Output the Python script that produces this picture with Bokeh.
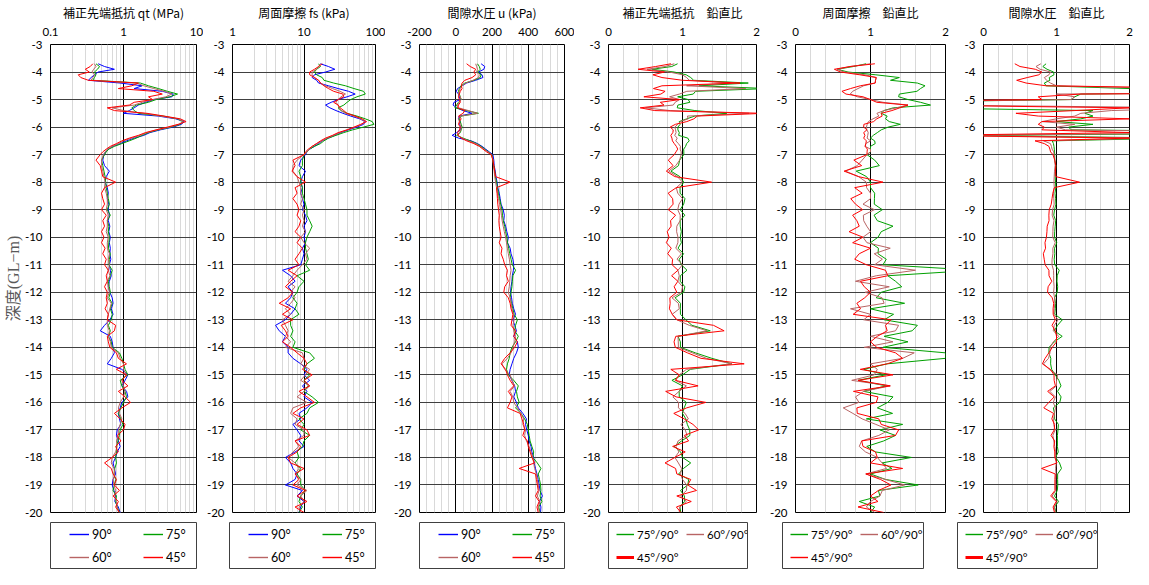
import numpy as np
from bokeh.plotting import figure
from bokeh.models import (Range1d, FixedTicker, CustomJSTickFormatter, Legend,
                          LegendItem, Spacer)
from bokeh.layouts import row, column
from bokeh.embed import file_html
from bokeh.resources import INLINE

# ---------------- data ----------------
depth_top = [-3.7, -3.8, -3.9, -4.0, -4.1, -4.2, -4.3, -4.4, -4.5, -4.6,
             -4.7, -4.8, -4.9, -5.0, -5.1, -5.2, -5.3, -5.4, -5.5, -5.6,
             -5.7, -5.8, -5.9, -6.0, -6.1, -6.2, -6.3, -6.4, -6.5, -6.6,
             -6.7, -6.8, -6.9, -7.0]
depth_bottom = [-7.2, -7.4, -7.6, -7.8, -8.0, -8.2, -8.4, -8.6, -8.8, -9.0,
                -9.2, -9.4, -9.6, -9.8, -10.0, -10.2, -10.4, -10.6, -10.8, -11.0,
                -11.2, -11.4, -11.6, -11.8, -12.0, -12.2, -12.4, -12.6, -12.8, -13.0,
                -13.2, -13.4, -13.6, -13.8, -14.0, -14.2, -14.4, -14.6, -14.8, -15.0,
                -15.2, -15.4, -15.6, -15.8, -16.0, -16.2, -16.4, -16.6, -16.8, -17.0,
                -17.2, -17.4, -17.6, -17.8, -18.0, -18.2, -18.4, -18.6, -18.8, -19.0,
                -19.2, -19.4, -19.6, -19.8, -20.0]
depth = depth_top + depth_bottom

# corrected cone resistance qt (MPa)
qt_90 = [0.45, 0.55, 0.75, 0.45, 0.40, 0.36, 0.33, 0.9, 1.8, 1.4,
         3.4, 4.8, 4.6, 2.6, 2.0, 1.6, 1.4, 1.2, 1.0, 3.0,
         5.2, 6.8, 6.2, 4.8, 3.2, 2.3, 1.9, 1.4, 1.1, 0.9,
         0.72, 0.62, 0.57, 0.54,
         0.52, 0.55, 0.64, 0.58, 0.56, 0.60, 0.62, 0.60, 0.63, 0.62,
         0.64, 0.62, 0.65, 0.63, 0.66, 0.64, 0.66, 0.65, 0.67, 0.64,
         0.66, 0.68, 0.64, 0.62, 0.65, 0.70, 0.72, 0.68, 0.72, 0.65,
         0.55, 0.48, 0.66, 0.70, 0.72, 0.75, 0.68, 0.60, 0.95, 1.15,
         1.05, 0.95, 1.10, 1.15, 0.95, 0.90, 0.85, 0.88, 0.92, 0.82,
         0.80, 0.85, 0.90, 0.82, 0.78, 0.72, 0.75, 0.78, 0.72, 0.70,
         0.74, 0.78, 0.76, 0.85, 0.90]
qt_75 = [0.42, 0.47, 0.44, 0.40, 0.42, 0.40, 0.38, 1.7, 2.2, 3.0,
         4.0, 5.5, 4.3, 2.8, 2.2, 1.5, 1.3, 1.4, 1.6, 3.5,
         5.5, 6.5, 6.0, 4.5, 3.0, 2.2, 1.8, 1.5, 1.2, 0.95,
         0.75, 0.63, 0.58, 0.55,
         0.50, 0.52, 0.54, 0.56, 0.57, 0.58, 0.60, 0.62, 0.64, 0.60,
         0.66, 0.60, 0.63, 0.62, 0.64, 0.63, 0.62, 0.66, 0.64, 0.63,
         0.70, 0.66, 0.62, 0.64, 0.66, 0.63, 0.70, 0.66, 0.70, 0.68,
         0.62, 0.66, 0.62, 0.68, 0.70, 0.88, 0.95, 1.00, 1.05, 1.15,
         0.90, 0.95, 1.05, 1.10, 1.00, 0.92, 0.85, 0.92, 0.98, 0.90,
         0.88, 0.84, 0.80, 0.80, 0.78, 0.80, 0.76, 0.74, 0.78, 0.75,
         0.72, 0.80, 0.78, 0.82, 0.88]
qt_60 = [0.40, 0.42, 0.39, 0.37, 0.40, 0.38, 0.36, 1.5, 1.9, 2.6,
         3.6, 4.6, 3.8, 2.5, 1.8, 1.4, 0.7, 1.0, 1.9, 3.2,
         5.6, 6.6, 5.8, 4.3, 2.9, 2.1, 1.7, 1.3, 1.0, 0.85,
         0.7, 0.6, 0.56, 0.53,
         0.50, 0.50, 0.52, 0.54, 0.56, 0.55, 0.58, 0.60, 0.60, 0.58,
         0.62, 0.60, 0.60, 0.58, 0.62, 0.60, 0.60, 0.64, 0.62, 0.64,
         0.62, 0.65, 0.60, 0.62, 0.64, 0.60, 0.68, 0.65, 0.62, 0.60,
         0.60, 0.64, 0.62, 0.66, 0.68, 0.85, 0.90, 1.00, 1.00, 1.10,
         0.95, 1.00, 1.05, 1.00, 0.90, 0.85, 0.88, 0.95, 0.90, 0.85,
         0.85, 0.80, 0.82, 0.78, 0.70, 0.68, 0.74, 0.76, 0.72, 0.74,
         0.78, 0.76, 0.80, 0.82, 0.86]
qt_45 = [0.38, 0.35, 0.30, 0.34, 0.24, 0.26, 0.33, 1.6, 1.3, 0.85,
         2.6, 3.4, 2.2, 2.5, 1.4, 1.2, 0.6, 0.75, 2.1, 3.6,
         6.0, 7.2, 5.6, 4.0, 2.8, 2.0, 1.6, 1.2, 0.95, 0.8,
         0.66, 0.58, 0.52, 0.48,
         0.42, 0.48, 0.50, 0.52, 0.78, 0.55, 0.50, 0.52, 0.55, 0.50,
         0.58, 0.52, 0.55, 0.50, 0.54, 0.50, 0.56, 0.52, 0.58, 0.55,
         0.62, 0.58, 0.60, 0.55, 0.60, 0.58, 0.60, 0.56, 0.62, 0.60,
         0.78, 0.75, 0.60, 0.62, 0.65, 0.80, 0.85, 1.10, 0.80, 1.10,
         0.95, 1.15, 0.85, 1.05, 1.25, 0.95, 0.75, 0.90, 1.05, 1.00,
         0.82, 0.92, 0.78, 0.85, 0.70, 0.55, 0.68, 0.72, 0.80, 0.75,
         0.88, 0.72, 0.85, 0.78, 0.88]

# sleeve friction fs (kPa)
fs_90 = [17, 22, 27, 20, 14, 13, 15, 16, 22, 30,
         42, 52, 40, 30, 24, 20, 23, 28, 35, 45,
         60, 72, 68, 55, 42, 33, 27, 22, 18, 16,
         14, 12, 11, 10.5,
         9, 8.5, 10.5, 9.5, 9, 9.5, 9, 9.5, 10, 9.5,
         10.5, 11, 10, 10.5, 10, 10.5, 9.5, 10, 9.5, 9,
         5, 6.5, 7.5, 6, 7, 6.5, 5.5, 7.5, 6.5, 5.5,
         4, 4.5, 5.5, 5, 6, 6, 7, 9, 11, 10,
         12, 9.5, 11, 10, 13, 11, 8.5, 9, 7, 8,
         9, 8.5, 10, 7.5, 5.5, 6.5, 7, 8, 7.5, 5.5,
         9.5, 8, 10, 9, 8.5]
fs_75 = [16, 17, 15, 14, 15, 18, 19, 26, 38, 50,
         68, 72, 55, 45, 40, 36, 30, 33, 40, 55,
         72, 90, 95, 68, 48, 36, 28, 22, 19, 17,
         14, 12, 11, 10,
         9.5, 9.5, 8.5, 9, 9, 9.5, 9.5, 10, 10.5, 11,
         11, 12, 13, 12, 11, 10.5, 10.5, 11, 11.5, 10.5,
         12, 8, 10, 8.5, 8, 7, 8, 7.5, 8.5, 6.5,
         6.5, 7, 6.5, 7.5, 7, 12, 14, 11, 10, 12,
         10, 11.5, 10, 13, 16, 12, 11, 8.5, 10, 9,
         12, 10, 9.5, 8, 8.5, 7.5, 9, 8, 9, 9,
         10.5, 9, 8.5, 9.5, 8.5]
fs_60 = [17, 16, 15, 13, 13, 14, 16, 17, 20, 25,
         32, 38, 33, 30, 28, 30, 31, 33, 38, 50,
         62, 70, 65, 52, 40, 32, 26, 21, 18, 15,
         13, 12, 11, 10,
         8, 7, 7, 8, 8.5, 9, 9, 9.5, 9, 10,
         9.5, 10, 9.5, 10.5, 9, 10, 12, 10.5, 11, 9.5,
         8, 7, 6, 7.5, 6.5, 7.5, 6.5, 5.5, 6.5, 5,
         5.5, 6, 5.5, 6.5, 5.5, 9.5, 10, 9, 12, 10.5,
         9, 12, 10, 8, 11, 7, 6.5, 8, 7.5, 10,
         10, 7.5, 8.5, 7, 6, 7.5, 8.5, 7.5, 9, 8,
         11, 9, 10, 8.5, 9]
fs_45 = [18, 16, 14, 12, 12, 14, 16, 17, 19, 22,
         26, 35, 36, 30, 26, 30, 32, 36, 40, 52,
         65, 75, 62, 50, 40, 30, 25, 20, 17, 15,
         13, 11.5, 10.5, 10,
         7, 7.5, 6.8, 8, 10.5, 7.5, 8, 7, 8, 8.5,
         8, 9, 8.5, 7.5, 9, 8, 9.5, 8.5, 7.5, 8.5,
         6, 8, 6.5, 5.5, 7, 6, 4.5, 6.5, 5, 7,
         4.8, 5.5, 6, 5, 6.5, 8, 10, 11, 9.5, 13,
         10, 12, 8.5, 11, 14, 9, 7, 10, 8, 11,
         12, 7.5, 9, 8, 6, 6.5, 10, 7.5, 8.5, 7,
         10.5, 8, 11, 7.5, 10]

# pore water pressure u (kPa)
u_90 = [140, 160, 155, 125, 145, 150, 110, 60, 35, 10,
        3, 15, 20, 25, -10, -15, 5, 40, 90, 20,
        15, 25, 20, 30, 25, 5, -20, 15, 85, 120,
        145, 165, 185, 205,
        210, 212, 218, 222, 228, 232, 240, 245, 250, 262,
        268, 265, 275, 282, 290, 285, 300, 305, 315, 320,
        318, 312, 310, 305, 302, 308, 312, 320, 330, 315,
        325, 335, 320, 340, 345, 335, 320, 310, 300, 295,
        310, 325, 330, 320, 335, 345, 370, 390, 385, 392,
        400, 405, 415, 420, 430, 432, 440, 448, 455, 460,
        465, 478, 462, 470, 468]
u_75 = [120, 130, 135, 120, 140, 135, 100, 50, 30, 20,
        15, 20, 25, 30, 15, 5, -5, 60, 125, 30,
        20, 25, 30, 35, 30, 25, 5, 40, 80, 115,
        140, 160, 180, 200,
        205, 210, 215, 218, 225, 230, 235, 242, 248, 255,
        258, 262, 270, 275, 282, 286, 292, 298, 305, 312,
        330, 315, 312, 310, 305, 300, 308, 315, 322, 340,
        330, 325, 345, 330, 310, 300, 295, 285, 280, 290,
        320, 345, 335, 340, 350, 330, 360, 380, 395, 400,
        405, 410, 420, 430, 425, 450, 470, 455, 462, 468,
        470, 465, 475, 458, 465]
u_60 = [110, 115, 120, 115, 130, 125, 95, 55, 35, 25,
        20, 15, 25, 30, 20, 10, 15, 70, 120, 25,
        15, 20, 25, 30, 28, 20, 10, 35, 70, 110,
        135, 155, 178, 198,
        205, 208, 212, 215, 220, 225, 230, 236, 242, 248,
        252, 256, 262, 268, 275, 280, 285, 290, 296, 300,
        305, 300, 298, 295, 290, 300, 305, 310, 318, 322,
        315, 320, 330, 325, 315, 305, 285, 255, 270, 300,
        310, 325, 300, 315, 320, 340, 360, 375, 370, 385,
        380, 390, 405, 415, 425, 430, 435, 445, 450, 455,
        460, 450, 465, 455, 462]
u_45 = [60, 80, 110, 100, 110, 90, 50, 35, 30, 35,
        25, 20, 15, 20, 25, 15, 10, 50, 40, 15,
        30, 20, 15, 25, 20, 10, 15, 30, 60, 100,
        130, 150, 170, 195,
        205, 210, 215, 220, 300, 225, 228, 230, 232, 236,
        240, 238, 240, 245, 250, 240, 255, 250, 262, 270,
        285, 280, 290, 270, 265, 290, 300, 305, 315, 310,
        305, 330, 320, 340, 325, 300, 270, 250, 275, 285,
        300, 320, 290, 310, 300, 285, 355, 365, 375, 380,
        370, 395, 400, 410, 420, 435, 350, 440, 445, 450,
        455, 440, 460, 448, 455]

angle_labels = ["90°", "75°", "60°", "45°"]
ratio_labels = ["75°/90°", "60°/90°", "45°/90°"]
titles = ["補正先端抵抗 qt (MPa)", "周面摩擦 fs (kPa)", "間隙水圧 u (kPa)",
          "補正先端抵抗　鉛直比", "周面摩擦　鉛直比", "間隙水圧　鉛直比"]
y_label = "深度(GL−m)"

# ---------------- styling ----------------
COLORS = ["#0000ff", "#00a000", "#b86464", "#ff0000"]
TICK_FONT = "Lato"
CJK = "Noto Sans CJK JP"
Y_TICKS = list(range(-20, -2))
FMT = "return String(tick)"
FRAME_H = 472
MAIN_H = 40 + FRAME_H + 9   # 521
LEG_H = 48                  # 1 + 46 box + 1


def make_fig(title, x_range, x_type, xticks, xminor, left, fw, right, ylabel=None):
    p = figure(width=left + fw + right, height=MAIN_H, x_range=x_range,
               y_range=Range1d(-20, -3), x_axis_type=x_type,
               x_axis_location="above", output_backend="svg",
               toolbar_location=None, min_border_left=left,
               min_border_right=right, min_border_top=40, min_border_bottom=9)
    p.outline_line_color = "black"
    p.outline_line_width = 1
    p.background_fill_color = "white"
    p.border_fill_color = "white"
    xt = FixedTicker(ticks=xticks, minor_ticks=xminor)
    yt = FixedTicker(ticks=Y_TICKS)
    p.xaxis.ticker = xt
    p.xgrid.ticker = xt
    p.yaxis.ticker = yt
    p.ygrid.ticker = yt
    for ax in (p.xaxis[0], p.yaxis[0]):
        ax.formatter = CustomJSTickFormatter(code=FMT)
        ax.major_tick_line_color = None
        ax.minor_tick_line_color = None
        ax.major_tick_out = 0
        ax.major_tick_in = 0
        ax.minor_tick_out = 0
        ax.minor_tick_in = 0
        ax.axis_line_color = None
        ax.major_label_text_font = TICK_FONT
        ax.major_label_text_font_size = "11.5px"
        ax.major_label_text_color = "#000000"
    p.xaxis.major_label_standoff = 9
    p.yaxis.major_label_standoff = 8
    p.xaxis.axis_label = title
    p.xaxis.axis_label_text_font = CJK
    p.xaxis.axis_label_text_font_size = "12px"
    p.xaxis.axis_label_text_font_style = "normal"
    p.xaxis.axis_label_text_color = "#000000"
    p.xaxis.axis_label_standoff = 4
    if ylabel:
        p.yaxis.axis_label = ylabel
        p.yaxis.axis_label_text_font = "Liberation Serif, Noto Sans CJK JP"
        p.yaxis.axis_label_text_font_size = "16px"
        p.yaxis.axis_label_text_font_style = "normal"
        p.yaxis.axis_label_text_color = "#595959"
        p.yaxis.axis_label_standoff = 0
    p.xgrid.grid_line_color = "#000000"
    p.xgrid.grid_line_width = 1
    p.xgrid.minor_grid_line_color = "#d9d9d9"
    p.xgrid.minor_grid_line_width = 1
    p.ygrid.grid_line_color = "#404040"
    p.ygrid.grid_line_width = 1
    return p


def legend_fig(box_w, styles, labels, vx, glyph_w, label_w, font_size):
    q = figure(width=box_w + 2, height=LEG_H, x_range=Range1d(0, 1), y_range=Range1d(0, 1),
               x_axis_location=None, y_axis_location=None, output_backend="svg",
               toolbar_location=None, min_border_left=1, min_border_right=1,
               min_border_top=1, min_border_bottom=1)
    q.grid.visible = False
    q.outline_line_color = "#404040"
    q.outline_line_width = 1
    q.background_fill_color = "white"
    q.border_fill_color = "white"
    items = []
    for (c, w), lab in zip(styles, labels):
        # legend swatch renderer, its points lie outside the visible range
        r = q.line(x=[-5, -4], y=[-5, -4], line_color=c, line_width=w, line_alpha=1.0)
        items.append(LegendItem(label=lab, renderers=[r], index=0))
    leg = Legend(items=items, location=(vx, 3), orientation="horizontal", ncols=2,
                 padding=0, spacing=7, margin=0, glyph_width=glyph_w, glyph_height=16,
                 label_height=16, label_width=label_w, label_standoff=3,
                 border_line_color=None, background_fill_alpha=0,
                 label_text_font=TICK_FONT, label_text_font_size=font_size,
                 label_text_color="#000000")
    q.add_layout(leg)
    return q


def raw_panel(title, series, x_range, x_type, xticks, xminor, left, fw, right, box_w, ylabel=None):
    p = make_fig(title, x_range, x_type, xticks, xminor, left, fw, right, ylabel)
    for s, c in zip(series, COLORS):
        p.line(s, depth, line_color=c, line_width=1)
    q = legend_fig(box_w, [(c, 1.4) for c in COLORS], angle_labels, 19, 20, 44, "12.5px")
    return p, q


def ratio_panel(title, series, left, fw, right, box_w, red_leg_w):
    minor = [0.2, 0.4, 0.6, 0.8, 1.2, 1.4, 1.6, 1.8]
    p = make_fig(title, Range1d(0, 2), "linear", [0, 1, 2], minor, left, fw, right)
    base = np.array(series[0], dtype=float)
    for s, c in zip(series[1:], COLORS[1:]):
        ratio = np.array(s, dtype=float) / base
        p.line(ratio, depth, line_color=c, line_width=1)
    q = legend_fig(box_w, list(zip(COLORS[1:], [1.4, 1.4, red_leg_w])),
                   ratio_labels, 8, 18, 42, "11.5px")
    return p, q


qt_all = [qt_90, qt_75, qt_60, qt_45]
fs_all = [fs_90, fs_75, fs_60, fs_45]
u_all = [u_90, u_75, u_60, u_45]

p1, q1 = raw_panel(titles[0], qt_all, Range1d(0.1, 10), "log", [0.1, 1, 10],
                   [0.2, 0.3, 0.4, 0.5, 0.6, 0.7, 0.8, 0.9, 2, 3, 4, 5, 6, 7, 8, 9],
                   50, 146, 7, 146, ylabel=y_label)
p2, q2 = raw_panel(titles[1], fs_all, Range1d(1, 100), "log", [1, 10, 100],
                   [2, 3, 4, 5, 6, 7, 8, 9, 20, 30, 40, 50, 60, 70, 80, 90],
                   26, 146, 10, 146)
p3, q3 = raw_panel(titles[2], u_all, Range1d(-200, 600), "linear", [-200, 0, 200, 400, 600],
                   [v for v in range(-200, 601, 40) if v % 200 != 0],
                   34, 145, 10, 145)
p4, q4 = ratio_panel(titles[3], qt_all, 34, 148, 7, 139, 3)
p5, q5 = ratio_panel(titles[4], fs_all, 32, 150, 7, 141, 1.4)
p6, q6 = ratio_panel(titles[5], u_all, 31, 146, 4, 140, 3)

top_row = row(p1, p2, p3, p4, p5, p6, spacing=0)
# legend boxes start at 49, 228, 418, 607, 781, 956 px from the layout's left
legend_row = row(Spacer(width=49, height=LEG_H), q1,
                 Spacer(width=31, height=LEG_H), q2,
                 Spacer(width=42, height=LEG_H), q3,
                 Spacer(width=42, height=LEG_H), q4,
                 Spacer(width=33, height=LEG_H), q5,
                 Spacer(width=32, height=LEG_H), q6, spacing=0)
layout = column(top_row, legend_row, spacing=0)
open("out.html", "w").write(file_html(layout, INLINE))
